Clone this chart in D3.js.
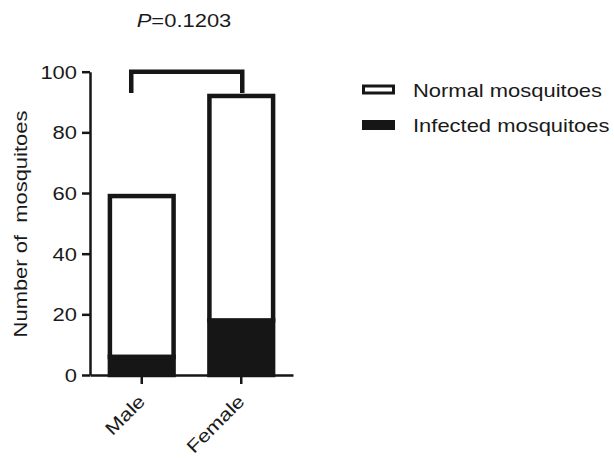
<!DOCTYPE html>
<html>
<head>
<meta charset="utf-8">
<script src="https://cdn.jsdelivr.net/npm/d3@7"></script>
<style>
  html, body { margin: 0; padding: 0; background: #fff; }
  text { font-family: "Liberation Sans", Arial, sans-serif; fill: #1a1a1a; }
</style>
</head>
<body>
<div id="chart"></div>
<script>
// Chart data
const categories = ['Male', 'Female'];
const infected = [6, 18];
const normal = [53, 74];
const seriesNames = ['Normal mosquitoes', 'Infected mosquitoes'];
const yTicks = [0, 20, 40, 60, 80, 100];
const pLabel = '0.1203';

const W = 614, H = 458;
const ink = '#161616';
const fontSize = 18;
const stretch = 1.22; // the source font runs wide

// helper: stretched text placed with a transform
function _placeText(sel, x, y, rot) {
    sel.attr('x', 0).attr('y', 0)
        .attr('transform', `translate(${x},${y}) rotate(${rot || 0}) scale(${stretch},1)`)
        .style('font-size', fontSize + 'px');
}

const svg = d3.select('#chart').append('svg')
    .attr('width', W)
    .attr('height', H);

// Scales
const x = d3.scaleBand()
    .domain(categories)
    .range([90, 293])
    .paddingInner(0.36)
    .paddingOuter(0.2);

const y = d3.scaleLinear()
    .domain([0, 100])
    .range([375, 71.7]);

// Stack the two series (infected at the bottom)
const rows = categories.map((c, i) => ({cat: c, infected: infected[i], normal: normal[i]}));
const stacked = d3.stack().keys(['infected', 'normal'])(rows);

// Bars
const g = svg.append('g');
stacked.forEach(layer => {
    g.selectAll('.bar-' + layer.key)
        .data(layer)
        .enter()
        .append('rect')
        .attr('class', 'bar-' + layer.key)
        .attr('x', d => x(d.data.cat))
        .attr('width', x.bandwidth())
        .attr('y', d => y(d[1]))
        .attr('height', d => y(d[0]) - y(d[1]))
        .attr('fill', layer.key === 'infected' ? ink : '#fff')
        .attr('stroke', ink)
        .attr('stroke-width', 4.5);
});

// Y axis
const yAxis = svg.append('g')
    .attr('transform', 'translate(90,0)')
    .call(d3.axisLeft(y).tickValues(yTicks).tickSize(8).tickSizeOuter(0));
yAxis.selectAll('path, line').attr('stroke', ink).attr('stroke-width', 2.5);
yAxis.selectAll('text').each(function(d) {
    const t = d3.select(this);
    t.attr('dy', '0.36em').attr('text-anchor', 'end').attr('fill', ink);
    _placeText(t, -13, 0);
});

// X axis
const xAxis = svg.append('g')
    .attr('transform', `translate(0,${y(0)})`)
    .call(d3.axisBottom(x).tickSize(9).tickSizeOuter(0));
xAxis.selectAll('path, line').attr('stroke', ink).attr('stroke-width', 2.5);
xAxis.selectAll('text').each(function(d) {
    const t = d3.select(this);
    t.attr('dy', 0).attr('text-anchor', 'end').attr('fill', ink);
    _placeText(t, 4.5, 27.5, -45);
});

// Y axis label
const yLabel = svg.append('text')
    .attr('text-anchor', 'middle')
    .style('white-space', 'pre')
    .text('Number of  mosquitoes');
_placeText(yLabel, 27, 224, -90);

// Significance bracket
const left = x('Male') + x.bandwidth() / 2 - 10.5;
const right = x('Female') + x.bandwidth() / 2 + 1;
svg.append('path')
    .attr('d', `M${left},${y(93)}V${y(100)}H${right}V${y(93)}`)
    .attr('fill', 'none')
    .attr('stroke', ink)
    .attr('stroke-width', 4.5);

// P value
const title = svg.append('text').attr('text-anchor', 'middle');
title.append('tspan').style('font-style', 'italic').text('P');
title.append('tspan').text('=' + pLabel);
_placeText(title, 184, 27);

// Legend
const legend = svg.append('g');
seriesNames.forEach((name, i) => {
    const ly = 89.5 + i * 35.5;
    legend.append('rect')
        .attr('x', 363.5)
        .attr('y', ly - 3.5)
        .attr('width', 30)
        .attr('height', 7)
        .attr('fill', i === 0 ? '#fff' : ink)
        .attr('stroke', ink)
        .attr('stroke-width', 3);
    const t = legend.append('text').text(name);
    _placeText(t, 413, ly + 7);
});
</script>
</body>
</html>
